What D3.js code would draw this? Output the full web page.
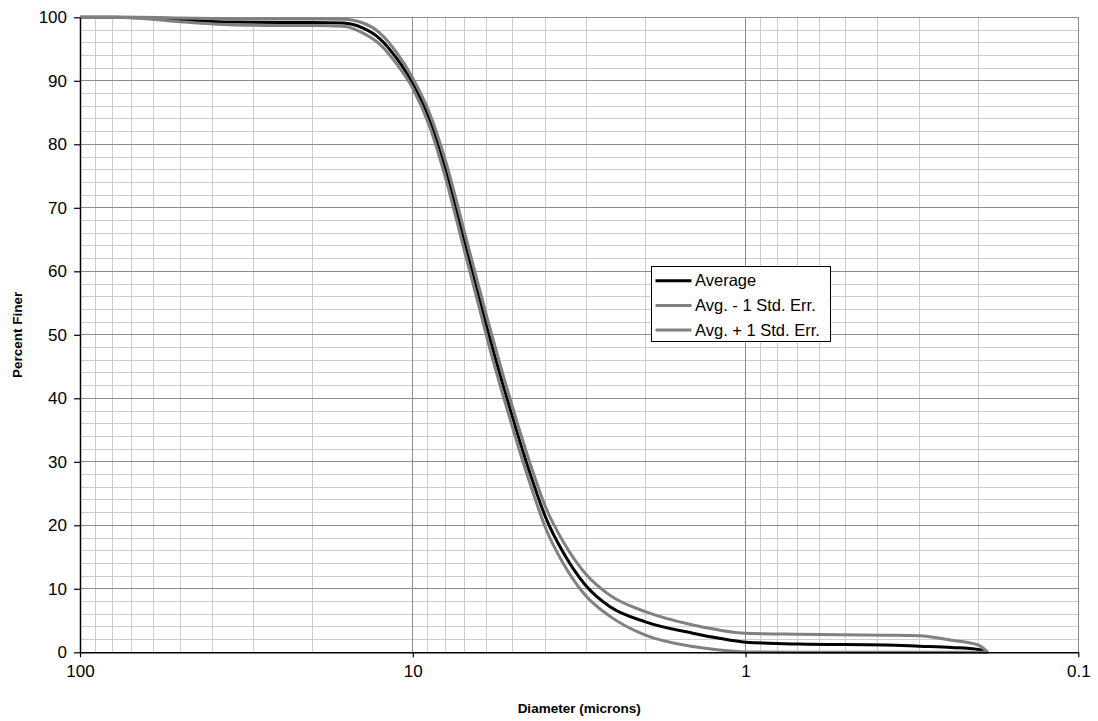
<!DOCTYPE html>
<html>
<head>
<meta charset="utf-8">
<script src="https://cdn.jsdelivr.net/npm/d3@7"></script>
<style>
  html, body { margin: 0; padding: 0; background: #fff; }
  svg { display: block; font-family: Arial, "Liberation Sans", sans-serif; }
</style>
</head>
<body>
<svg id="chart" width="1098" height="721"></svg>
<script>
// Particle size distribution: percent finer vs. diameter (log scale, reversed)
const diameters = [100, 80, 67, 50, 40, 34, 25, 20, 16.2, 14.1, 12.6, 11.2, 10, 8.9, 8.0, 7.0, 6.4, 5.94, 5.35, 4.87, 4.45, 3.97, 3.53, 3.03, 2.56, 2.0, 1.44, 1.2, 1.0, 0.69, 0.38, 0.3, 0.24, 0.2, 0.187];
const average = [100, 100, 99.95, 99.6, 99.35, 99.25, 99.2, 99.2, 99.1, 98.3, 96.7, 93.6, 89.6, 83.9, 76.4, 64.8, 57.0, 50.5, 42.0, 34.8, 28.3, 21.0, 15.7, 10.6, 7.2, 4.8, 3.0, 2.2, 1.6, 1.3, 1.15, 0.95, 0.75, 0.45, 0];
const avgMinus = [100, 100, 99.85, 99.3, 98.95, 98.8, 98.7, 98.7, 98.6, 97.5, 95.8, 92.7, 88.8, 82.8, 75.0, 63.3, 55.5, 48.9, 40.4, 33.2, 26.7, 19.3, 14.0, 9.0, 5.7, 2.7, 0.9, 0.35, 0.05, 0, 0, 0, 0, 0, 0];
const avgPlus = [100, 100, 100, 99.9, 99.8, 99.75, 99.75, 99.75, 99.7, 99.1, 97.6, 94.5, 90.4, 84.9, 77.7, 66.3, 58.5, 52.1, 43.6, 36.4, 29.9, 22.6, 17.4, 12.4, 9.0, 6.4, 4.3, 3.5, 3.0, 2.85, 2.7, 2.6, 1.9, 1.15, 0];

const seriesNames = ["Average", "Avg. - 1 Std. Err.", "Avg. + 1 Std. Err."];
const seriesValues = [average, avgMinus, avgPlus];
const seriesColors = ["#000000", "#808080", "#808080"];

const xTickValues = [100, 10, 1, 0.1];
const xTickLabels = ["100", "10", "1", "0.1"];
const yTickValues = [0, 10, 20, 30, 40, 50, 60, 70, 80, 90, 100];

const svg = d3.select("#chart");
const plot = { left: 80, right: 1078.3, top: 17.3, bottom: 652.3 };

const x = d3.scaleLog().domain([100, 0.1]).range([plot.left, plot.right]);
const y = d3.scaleLinear().domain([0, 100]).range([plot.bottom, plot.top]);

// Gridlines: minor first, then major
const minorX = [];
[10, 1, 0.1].forEach(dec => { for (let k = 2; k <= 9; k++) minorX.push(dec * k); });
const minorY = d3.range(0, 101, 2).filter(v => v % 10 !== 0);

const grid = svg.append("g").attr("shape-rendering", "crispEdges");
grid.selectAll(".mx").data(minorX).join("line")
  .attr("x1", d => x(d)).attr("x2", d => x(d))
  .attr("y1", plot.top).attr("y2", plot.bottom)
  .attr("stroke", "#cccccc").attr("stroke-width", 1);
grid.selectAll(".my").data(minorY).join("line")
  .attr("x1", plot.left).attr("x2", plot.right)
  .attr("y1", d => y(d)).attr("y2", d => y(d))
  .attr("stroke", "#cccccc").attr("stroke-width", 1);
grid.selectAll(".MX").data(xTickValues).join("line")
  .attr("x1", d => x(d)).attr("x2", d => x(d))
  .attr("y1", plot.top).attr("y2", plot.bottom)
  .attr("stroke", "#8c8c8c").attr("stroke-width", 1);
grid.selectAll(".MY").data(yTickValues).join("line")
  .attr("x1", plot.left).attr("x2", plot.right)
  .attr("y1", d => y(d)).attr("y2", d => y(d))
  .attr("stroke", "#8c8c8c").attr("stroke-width", 1);

// Data lines (Average first, standard error bounds drawn over it)
const line = d3.line()
  .x(d => x(d[0]))
  .y(d => y(d[1]))
  .curve(d3.curveMonotoneX);

const lines = svg.append("g");
seriesValues.forEach((vals, i) => {
  lines.append("path")
    .datum(diameters.map((dm, j) => [dm, vals[j]]))
    .attr("d", line)
    .attr("fill", "none")
    .attr("stroke", seriesColors[i])
    .attr("stroke-width", 3)
    .attr("stroke-linejoin", "round");
});

// Axes
const xAxis = d3.axisBottom(x)
  .tickValues(xTickValues)
  .tickFormat((d, i) => xTickLabels[i])
  .tickSizeInner(5).tickSizeOuter(0).tickPadding(8);
const gx = svg.append("g")
  .attr("transform", `translate(0,${plot.bottom})`)
  .call(xAxis);

const yAxis = d3.axisLeft(y)
  .tickValues(yTickValues)
  .tickSizeInner(6).tickSizeOuter(0).tickPadding(7);
const gy = svg.append("g")
  .attr("transform", `translate(${plot.left},0)`)
  .call(yAxis);

[gx, gy].forEach(g => {
  g.select(".domain").attr("stroke", "#000").attr("stroke-width", 1.5);
  g.selectAll(".tick line").attr("stroke", "#000").attr("stroke-width", 1.2);
  g.selectAll(".tick text")
    .attr("font-family", "Arial, 'Liberation Sans', sans-serif")
    .attr("font-size", 17).attr("fill", "#000");
});

// Axis titles
svg.append("text")
  .attr("x", (plot.left + plot.right) / 2).attr("y", 713)
  .attr("text-anchor", "middle")
  .attr("font-size", 13.5).attr("font-weight", "bold")
  .text("Diameter (microns)");

svg.append("text")
  .attr("transform", `translate(22,${(plot.top + plot.bottom) / 2}) rotate(-90)`)
  .attr("text-anchor", "middle")
  .attr("font-size", 13.5).attr("font-weight", "bold")
  .text("Percent Finer");

// Legend
const legend = svg.append("g").attr("transform", "translate(651.5,266.5)");
legend.append("rect")
  .attr("width", 178.5).attr("height", 75)
  .attr("fill", "#fff").attr("stroke", "#000").attr("stroke-width", 1)
  .attr("shape-rendering", "crispEdges");
seriesNames.forEach((name, i) => {
  const cy = 14.2 + i * 24.7;
  legend.append("line")
    .attr("x1", 4).attr("x2", 40)
    .attr("y1", cy).attr("y2", cy)
    .attr("stroke", seriesColors[i]).attr("stroke-width", 3);
  legend.append("text")
    .attr("x", 43.5).attr("y", cy)
    .attr("dy", "0.35em")
    .attr("font-size", 16.5)
    .text(name);
});
</script>
</body>
</html>
